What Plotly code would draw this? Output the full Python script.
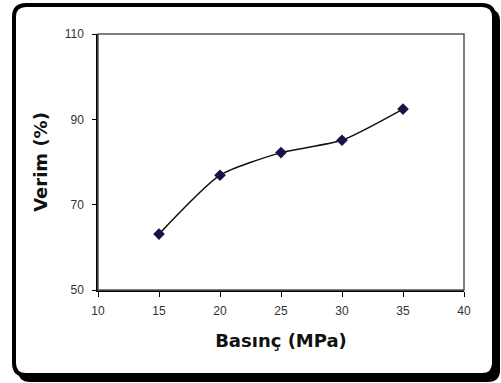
import plotly.graph_objects as go

# Pressure (MPa) vs. yield (%)
basinc = [15, 20, 25, 30, 35]
verim = [63.1, 76.9, 82.2, 85.1, 92.4]

x_ticks = [10, 15, 20, 25, 30, 35, 40]
y_ticks = [50, 70, 90, 110]

W, H = 501, 383
L, R, T, B = 98, 37, 34, 93
PW, PH = W - L - R, H - T - B


def px(x):
    return (x - L) / PW


def py(y):
    return (H - B - y) / PH


def rounded_rect(x0, y0, x1, y1, r):
    return (
        f"M {px(x0 + r)} {py(y0)} L {px(x1 - r)} {py(y0)} "
        f"Q {px(x1)} {py(y0)} {px(x1)} {py(y0 + r)} "
        f"L {px(x1)} {py(y1 - r)} "
        f"Q {px(x1)} {py(y1)} {px(x1 - r)} {py(y1)} "
        f"L {px(x0 + r)} {py(y1)} "
        f"Q {px(x0)} {py(y1)} {px(x0)} {py(y1 - r)} "
        f"L {px(x0)} {py(y0 + r)} "
        f"Q {px(x0)} {py(y0)} {px(x0 + r)} {py(y0)} Z"
    )


fig = go.Figure()
fig.add_trace(go.Scatter(
    x=basinc, y=verim, mode="lines+markers",
    line=dict(color="#111111", width=1.5, shape="spline", smoothing=0.6),
    marker=dict(symbol="diamond", size=9, color="#14144a"),
    showlegend=False,
))

shapes = [
    # drop shadow of the outer frame
    dict(type="path", xref="paper", yref="paper", layer="below",
         path=rounded_rect(18, 9, 500, 382, 12),
         fillcolor="black", line=dict(width=0)),
    # outer rounded frame
    dict(type="path", xref="paper", yref="paper", layer="below",
         path=rounded_rect(14, 5, 494, 375, 12),
         fillcolor="white", line=dict(color="black", width=4)),
    # plot area border
    dict(type="rect", xref="paper", yref="paper", x0=0, y0=0, x1=1, y1=1,
         line=dict(color="#555555", width=1.5), layer="above"),
]

font = "Liberation Sans, Arial, sans-serif"
title_font = "DejaVu Sans, Arial, sans-serif"
fig.update_layout(
    width=W, height=H, autosize=False,
    margin=dict(l=L, r=R, t=T, b=B, pad=0),
    paper_bgcolor="white", plot_bgcolor="white",
    shapes=shapes,
    font=dict(family=font, color="#222222"),
    xaxis=dict(
        range=[10, 40], tickvals=x_ticks, ticktext=[str(v) for v in x_ticks],
        showgrid=False, zeroline=False,
        showline=True, linecolor="black", linewidth=1.5,
        ticks="outside", ticklen=5, tickwidth=1.2, tickcolor="black",
        ticklabelstandoff=4,
        tickfont=dict(size=12, family=font, color="#333333"),
        title=dict(text="<b>Basınç (MPa)</b>", standoff=17,
                   font=dict(size=18, family=title_font, color="#111111")),
    ),
    yaxis=dict(
        range=[50, 110], tickvals=y_ticks, ticktext=[str(v) for v in y_ticks],
        showgrid=False, zeroline=False,
        showline=True, linecolor="black", linewidth=1.5,
        ticks="outside", ticklen=4, tickwidth=1.2, tickcolor="black",
        ticklabelstandoff=6,
        tickfont=dict(size=12, family=font, color="#333333"),
        title=dict(text="<b>Verim (%)</b>", standoff=12,
                   font=dict(size=18, family=title_font, color="#111111")),
    ),
)

fig.write_html("out.html")
